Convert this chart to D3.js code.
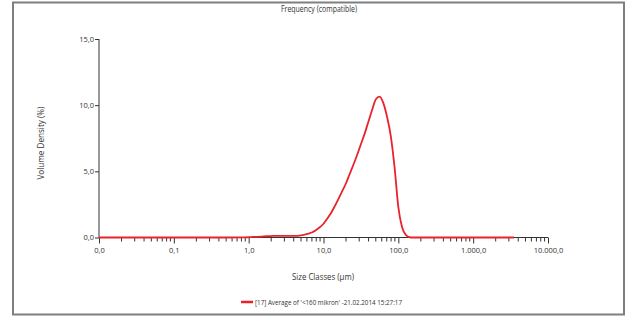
<!DOCTYPE html>
<html><head><meta charset="utf-8">
<script src="https://cdn.jsdelivr.net/npm/d3@7"></script>
<style>body{margin:0;background:#fff;} svg{display:block;} text{font-family:"Open Sans",sans-serif;fill:#333;}</style>
</head><body>
<script>
const sizes = [0.01,0.1,0.5,0.8,1.0,1.26,1.58,2.0,2.5,3.2,4.0,4.5,5.0,5.6,6.3,7.1,7.9,8.9,10,11.2,12.6,14.1,15.8,17.8,20,22.4,25.1,28.2,31.6,35.5,39.8,44.7,50.1,56.2,63.1,70.8,79.4,89.1,100,112,126,141,158,300,1000,3500];
const density = [0,0,0,0.005,0.02,0.05,0.08,0.11,0.13,0.13,0.12,0.13,0.16,0.22,0.30,0.40,0.55,0.77,1.04,1.42,1.85,2.35,2.9,3.5,4.1,4.8,5.5,6.25,7.05,7.85,8.75,9.65,10.45,10.65,10.15,9.1,7.65,5.3,2.3,0.8,0.2,0.02,0,0,0,0];
const xTickValues = [0.01,0.1,1,10,100,1000,10000];
const xTickLabels = ["0,0","0,1","1,0","10,0","100,0","1.000,0","10.000,0"];
const yTickValues = [0,5,10,15];
const yTickLabels = ["0,0","5,0","10,0","15,0"];
const title = "Frequency (compatible)";
const xTitle = "Size Classes (µm)";
const yTitle = "Volume Density (%)";
const legendLabel = "[17] Average of '<160 mikron' -21.02.2014 15:27:17";

const W=630,H=320;
const svg=d3.select("body").append("svg").attr("width",W).attr("height",H);
svg.append("rect").attr("x",13).attr("y",2.5).attr("width",611).attr("height",312)
  .attr("fill","none").attr("stroke","#7f7f7f").attr("stroke-width",2);

const x=d3.scaleLog().domain([0.01,10000]).range([99,548]);
const y=d3.scaleLinear().domain([0,15]).range([237.5,39]);

const minor=[];
for(let e=-2;e<4;e++){for(let m=2;m<=9;m++){minor.push(m*Math.pow(10,e));}}
const xAxis=d3.axisBottom(x).tickValues(xTickValues).tickFormat((d,i)=>xTickLabels[i]).tickSize(6).tickPadding(4);
const gx=svg.append("g").attr("transform",`translate(0,${y(0)})`).call(xAxis);
gx.selectAll("line.minor").data(minor).enter().append("line").attr("class","minor")
  .attr("x1",d=>x(d)).attr("x2",d=>x(d)).attr("y1",0).attr("y2",4).attr("stroke","#333");
gx.select(".domain").attr("d",`M${x(0.01)},0H${x(10000)}`).attr("stroke","#333");
gx.selectAll(".tick line").attr("stroke","#333");
gx.selectAll(".tick text").attr("font-size",7.5).attr("fill","#444").attr("font-family","Open Sans");

const yAxis=d3.axisLeft(y).tickValues(yTickValues).tickFormat((d,i)=>yTickLabels[i]).tickSize(4).tickPadding(1);
const gy=svg.append("g").attr("transform",`translate(${x(0.01)},0)`).call(yAxis);
gy.select(".domain").attr("d",`M0,${y(15)}V${y(0)}`).attr("stroke","#333");
gy.selectAll(".tick line").attr("stroke","#333");
gy.selectAll(".tick text").attr("font-size",7.5).attr("fill","#444").attr("font-family","Open Sans");

const line=d3.line().x((d,i)=>x(sizes[i])).y(d=>y(d)).curve(d3.curveMonotoneX);
svg.append("path").attr("d",line(density)).attr("fill","none").attr("stroke","#e8232b").attr("stroke-width",1.8);

svg.append("text").attr("x",319).attr("y",12).attr("text-anchor","middle").attr("font-size",8.5)
  .attr("textLength",76).attr("lengthAdjust","spacingAndGlyphs").text(title);
svg.append("text").attr("x",323).attr("y",280).attr("text-anchor","middle").attr("font-size",8.5)
  .attr("textLength",62).attr("lengthAdjust","spacingAndGlyphs").text(xTitle);
svg.append("text").attr("transform",`translate(44,143) rotate(-90)`).attr("text-anchor","middle").attr("font-size",8.5)
  .attr("textLength",73).attr("lengthAdjust","spacingAndGlyphs").text(yTitle);
svg.append("line").attr("x1",241).attr("x2",253).attr("y1",302).attr("y2",302).attr("stroke","#e8232b").attr("stroke-width",2.5);
svg.append("text").attr("x",255).attr("y",305).attr("font-size",7.5)
  .attr("textLength",147).attr("lengthAdjust","spacingAndGlyphs").text(legendLabel);
</script>
</body></html>
